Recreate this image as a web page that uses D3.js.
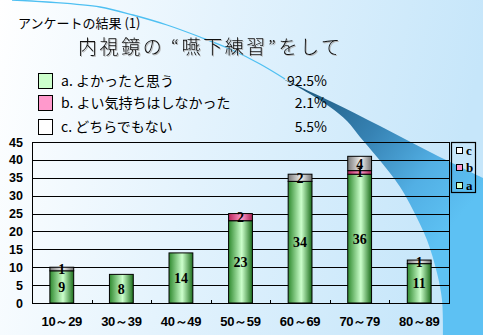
<!DOCTYPE html>
<html>
<head>
<meta charset="utf-8">
<script src="https://cdn.jsdelivr.net/npm/d3@7/dist/d3.min.js"></script>
<style>
  html, body { margin: 0; padding: 0; background: #fff; }
  svg { display: block; }
</style>
</head>
<body>
<svg id="chart" width="483" height="335"></svg>
<script>
// Age groups and answer counts
const categories = ["10～29", "30～39", "40～49", "50～59", "60～69", "70～79", "80～89"];
const seriesA = [9, 8, 14, 23, 34, 36, 11];   // a. よかったと思う
const seriesB = [0, 0, 0, 2, 0, 1, 0];        // b. よい気持ちはしなかった
const seriesC = [1, 0, 0, 0, 2, 4, 1];        // c. どちらでもない
const seriesKeys = ["a", "b", "c"];
const answerLabels = ["a. よかったと思う", "b. よい気持ちはしなかった", "c. どちらでもない"];
const answerShares = ["92.5%", "2.1%", "5.5%"];
const yTicks = [0, 5, 10, 15, 20, 25, 30, 35, 40, 45];

const W = 483, H = 335;
const svg = d3.select("#chart");
const defs = svg.append("defs");

// ---------- background ----------
const bg = defs.append("linearGradient").attr("id", "bg")
  .attr("x1", 0).attr("y1", 0).attr("x2", 1).attr("y2", 0.15);
bg.append("stop").attr("offset", "0%").attr("stop-color", "#ffffff");
bg.append("stop").attr("offset", "45%").attr("stop-color", "#e4f3fd");
bg.append("stop").attr("offset", "100%").attr("stop-color", "#c6e6fa");
svg.append("rect").attr("width", W).attr("height", H).attr("fill", "url(#bg)");

const sw = defs.append("linearGradient").attr("id", "swoosh")
  .attr("gradientUnits", "userSpaceOnUse")
  .attr("x1", 285).attr("y1", 80).attr("x2", 455).attr("y2", 222);
sw.append("stop").attr("offset", "0%").attr("stop-color", "#1b5275");
sw.append("stop").attr("offset", "45%").attr("stop-color", "#3682b3");
sw.append("stop").attr("offset", "75%").attr("stop-color", "#52afe4");
sw.append("stop").attr("offset", "100%").attr("stop-color", "#5dc1f3");

const line = d3.line().curve(d3.curveCatmullRom);
// thin arc across the top
svg.append("path")
  .attr("d", line([[12, 0], [47, 2], [100, 7], [133, 15], [167, 25], [200, 37], [230, 49], [260, 64], [285, 79]]))
  .attr("fill", "none").attr("stroke", "#4fc0f2").attr("stroke-width", 1.3);
// widening blue band
const upper = [[283, 79], [330, 101], [380, 126], [430, 152], [483, 178]];
const lower = [[443, 335], [442, 300], [437, 273], [427, 240], [413, 210], [402, 190],
               [393, 177], [377, 157], [360, 137], [347, 121], [330, 107], [310, 94], [283, 79]];
svg.append("path")
  .attr("d", line(upper) + "L483,335" + line(lower).replace("M", "L") + "Z")
  .attr("fill", "url(#swoosh)");

// ---------- titles ----------
const jp = "'Noto Sans CJK JP', 'Noto Sans', sans-serif";
svg.append("text").attr("x", 18).attr("y", 28)
  .attr("font-family", jp).attr("font-size", 13).attr("fill", "#000")
  .text("アンケートの結果 (1)");
svg.append("text").attr("x", 78).attr("y", 54)
  .attr("font-family", jp).attr("font-size", 19).attr("font-weight", 300).attr("fill", "#111")
  .attr("textLength", 262).attr("lengthAdjust", "spacing")
  .style("filter", "drop-shadow(1.5px 1.5px 0 #b4b4b4)")
  .text("内視鏡の “嚥下練習”をして");

// ---------- answer legend with shares ----------
const swatch = { a: "#ccffcc", b: "#ff99cc", c: "#ffffff" };
const rowY = [81, 103, 127];
seriesKeys.forEach((k, i) => {
  svg.append("rect").attr("x", 38.5).attr("y", rowY[i] - 7.5).attr("width", 14).attr("height", 15)
    .attr("fill", swatch[k]).attr("stroke", "#000").attr("stroke-width", 1);
  svg.append("text").attr("x", 61).attr("y", rowY[i]).attr("dy", "0.36em")
    .attr("font-family", jp).attr("font-size", 14).text(answerLabels[i]);
  svg.append("text").attr("x", 327).attr("y", rowY[i]).attr("dy", "0.36em")
    .attr("text-anchor", "end")
    .attr("font-family", jp).attr("font-size", 14).text(answerShares[i]);
});

// ---------- chart ----------
const plot = { left: 32, right: 449, top: 142, bottom: 303 };
const x = d3.scaleBand().domain(categories).range([plot.left, plot.right]).padding(0);
const y = d3.scaleLinear().domain([0, 45]).range([plot.bottom, plot.top]);

// gridlines
svg.append("g").selectAll("line").data(yTicks).join("line")
  .attr("x1", plot.left).attr("x2", plot.right)
  .attr("y1", d => Math.round(y(d)) + 0.5).attr("y2", d => Math.round(y(d)) + 0.5)
  .attr("stroke", "#000").attr("stroke-width", 1);
svg.append("rect")
  .attr("x", plot.left + 0.5).attr("y", Math.round(y(45)) + 0.5)
  .attr("width", plot.right - plot.left).attr("height", Math.round(y(0)) - Math.round(y(45)))
  .attr("fill", "none").attr("stroke", "#000");

// y axis labels
const yAxis = d3.axisLeft(y).tickValues(yTicks).tickSize(0).tickPadding(9);
const gy = svg.append("g").attr("transform", `translate(${plot.left},0)`).call(yAxis);
gy.select(".domain").remove();
gy.selectAll("text").attr("font-family", "'Liberation Sans', Arial, sans-serif")
  .attr("font-weight", "bold").attr("font-size", 12.5).attr("fill", "#000");

// x axis: small inward ticks at category boundaries
svg.append("g").selectAll("line").data(categories.slice(1)).join("line")
  .attr("x1", d => Math.round(x(d)) + 0.5).attr("x2", d => Math.round(x(d)) + 0.5)
  .attr("y1", plot.bottom - 3).attr("y2", plot.bottom)
  .attr("stroke", "#000");
const xAxis = d3.axisBottom(x).tickSize(0).tickPadding(14);
const gx = svg.append("g").attr("transform", `translate(0,${plot.bottom})`).call(xAxis);
gx.select(".domain").remove();
gx.selectAll("text").attr("font-family", "'Liberation Sans', Arial, sans-serif")
  .attr("font-weight", "bold").attr("font-size", 13).attr("fill", "#000")
  .attr("letter-spacing", "-0.3");

// bar gradients (cylinder shading)
function cyl(id, edgeL, mid, edgeR) {
  const g = defs.append("linearGradient").attr("id", id)
    .attr("x1", 0).attr("y1", 0).attr("x2", 1).attr("y2", 0);
  g.append("stop").attr("offset", "0%").attr("stop-color", edgeL);
  g.append("stop").attr("offset", "55%").attr("stop-color", mid);
  g.append("stop").attr("offset", "100%").attr("stop-color", edgeR);
}
cyl("ga", "#2f8a2f", "#ccffcc", "#1c6e1c");
cyl("gb", "#b8245a", "#ff99cc", "#a81f50");
cyl("gc", "#7a7a7a", "#f2f2f2", "#707070");

const rows = categories.map((c, i) => ({ cat: c, a: seriesA[i], b: seriesB[i], c: seriesC[i] }));
const stacked = d3.stack().keys(seriesKeys)(rows);
const barW = x.bandwidth() * 0.4;

const layers = svg.append("g").selectAll("g").data(stacked).join("g")
  .attr("fill", d => `url(#g${d.key})`);
layers.selectAll("rect").data(d => d.filter(s => s[1] - s[0] > 0)).join("rect")
  .attr("x", d => x(d.data.cat) + (x.bandwidth() - barW) / 2)
  .attr("width", barW)
  .attr("y", d => y(d[1]))
  .attr("height", d => y(d[0]) - y(d[1]))
  .attr("stroke", "#000").attr("stroke-width", 1);

// value labels
const labels = [];
stacked.forEach(s => s.forEach(d => {
  const v = d[1] - d[0];
  if (v > 0) labels.push({ cat: d.data.cat, v, mid: (d[0] + d[1]) / 2 });
}));
svg.append("g").selectAll("text").data(labels).join("text")
  .attr("x", d => x(d.cat) + x.bandwidth() / 2)
  .attr("y", d => y(d.mid)).attr("dy", "0.36em")
  .attr("text-anchor", "middle")
  .attr("font-family", "'Liberation Serif', 'Times New Roman', serif")
  .attr("font-weight", "bold").attr("font-size", 14).attr("fill", "#000")
  .text(d => d.v);

// series legend (right)
svg.append("rect").attr("x", 451.5).attr("y", 142.5).attr("width", 24).attr("height", 50)
  .attr("fill", "none").attr("stroke", "#000").attr("stroke-width", 1.2);
const legRows = [{ k: "c", y: 151 }, { k: "b", y: 168 }, { k: "a", y: 186 }];
legRows.forEach(r => {
  svg.append("rect").attr("x", 456.5).attr("y", r.y - 3.5).attr("width", 6).attr("height", 6)
    .attr("fill", swatch[r.k]).attr("stroke", "#000").attr("stroke-width", 1);
  svg.append("text").attr("x", 466).attr("y", r.y).attr("dy", "0.3em")
    .attr("font-family", "'Liberation Serif', 'Times New Roman', serif")
    .attr("font-weight", "bold").attr("font-size", 13).text(r.k);
});
</script>
</body>
</html>
